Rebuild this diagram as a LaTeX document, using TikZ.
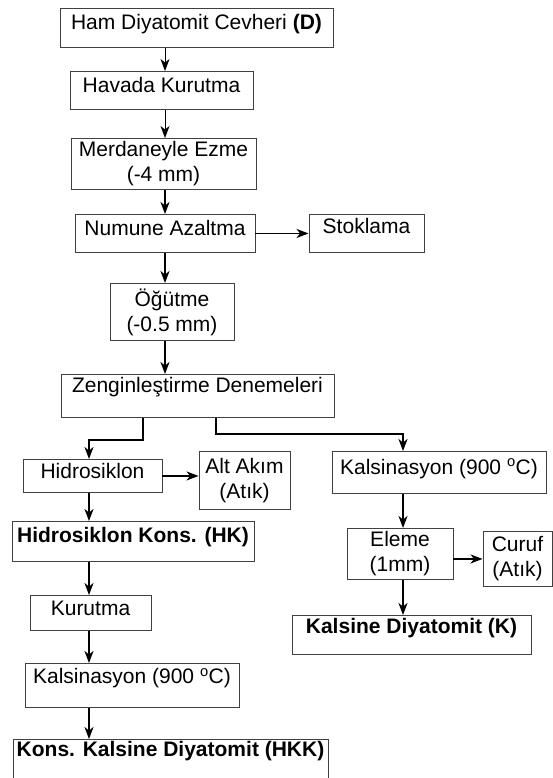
\documentclass[tikz,border=0pt]{standalone}
\usepackage{fontspec}
\setmainfont{Liberation Sans}
\usetikzlibrary{arrows.meta}

\begin{document}
\begin{tikzpicture}[x=1pt,y=-1pt,font=\fontsize{21}{25}\selectfont,
    box/.style={draw=black!75, line width=0.9pt, inner sep=0pt, anchor=north, align=center},
    flow/.style={->, line width=1.7pt},
    flowthin/.style={->, line width=0.9pt},
    >={Stealth[length=12pt,width=9pt,inset=3.5pt]}]
      \path[use as bounding box] (0,0) rectangle (553,778);
      \clip (0,0) rectangle (553,778);
      % main line
      \node [box, minimum width=273pt, text height=21.3pt, text depth=17.7pt] (raw) at (196.5,8) {Ham Diyatomit Cevheri \textbf{(D)}};
      \node [box, minimum width=183pt, text height=20.7pt, text depth=17.3pt] (hava) at (161.5,71) {Havada Kurutma};
      \node [box, minimum width=185pt, minimum height=51pt] (merd) at (163.5,138) {Merdaneyle Ezme\\(-4 mm)};
      \node [box, minimum width=180pt, text height=21pt, text depth=17pt] (num) at (165,214) {Numune Azaltma};
      \node [box, minimum width=115pt, text height=19.3pt, text depth=18.7pt] (stok) at (366.5,214) {Stoklama};
      \node [box, minimum width=124pt, minimum height=57pt] (ogut) at (172,283) {Öğütme\\(-0.5 mm)};
      \node [box, minimum width=273pt, text height=18.5pt, text depth=24.5pt] (zen) at (197.5,374) {Zenginleştirme Denemeleri};
      % hidrosiklon side
      \node [box, minimum width=139pt, text height=19.3pt, text depth=13.7pt] (hid) at (92.5,459) {Hidrosiklon};
      \node [box, minimum width=91pt, minimum height=58pt] (alt) at (244.5,451) {Alt Akım\\(Atık)};
      \node [box, minimum width=242pt, text height=20.7pt, text depth=19.3pt] (hk) at (133,521) {\textbf{Hidrosiklon Kons. (HK)}};
      \node [box, minimum width=121pt, text height=20pt, text depth=15pt] (kur) at (90.5,595) {Kurutma};
      \node [box, minimum width=214pt, text height=20.3pt, text depth=23.7pt] (kall) at (132,663) {Kalsinasyon (900 \textsuperscript{o}C)};
      \node [box, minimum width=315pt, text height=17pt, text depth=34pt] (hkk) at (170.5,739) {\textbf{Kons. Kalsine Diyatomit (HKK)}};
      % kalsinasyon side
      \node [box, minimum width=214pt, text height=23pt, text depth=19pt] (kalr) at (439,451) {Kalsinasyon (900 \textsuperscript{o}C)};
      \node [box, minimum width=106pt, minimum height=51pt] (elm) at (400,528) {Eleme\\(1mm)};
      \node [box, minimum width=69pt, minimum height=55pt] (cur) at (517.5,531) {Curuf\\(Atık)};
      \node [box, minimum width=239pt, text height=18.3pt, text depth=20.7pt] (kal) at (411.5,615) {\textbf{Kalsine Diyatomit (K)}};
      % connectors
      \coordinate (spine) at (165,0);
      \coordinate (lx) at (89,0);
      \coordinate (rx) at (403,0);
      \coordinate (lb) at (143,440);
      \coordinate (rb) at (216,434);
      \draw [flowthin] (raw.south -| spine) -- (hava.north -| spine);
      \draw [flowthin] (hava.south -| spine) -- (merd.north -| spine);
      \draw [flow] (merd.south -| spine) -- (num.north -| spine);
      \draw [flow] (num.east) -- (stok.west);
      \draw [flow] (num.south -| spine) -- (ogut.north -| spine);
      \draw [flow] (ogut.south -| spine) -- (zen.north -| spine);
      \draw [flow] (zen.south -| lb) -- (lb) -| (hid.north -| lx);
      \draw [flow] (zen.south -| rb) -- (rb) -| (kalr.north -| rx);
      \draw [flow] (hid.east) -- (alt.west |- hid.east);
      \draw [flow] (hid.south -| lx) -- (hk.north -| lx);
      \draw [flow] (hk.south -| lx) -- (kur.north -| lx);
      \draw [flow] (kur.south -| lx) -- (kall.north -| lx);
      \draw [flow] (kall.south -| lx) -- (hkk.north -| lx);
      \draw [flow] (kalr.south -| rx) -- (elm.north -| rx);
      \draw [flow] (elm.east |- cur.west) -- (cur.west);
      \draw [flow] (elm.south -| rx) -- (kal.north -| rx);
    \end{tikzpicture}
\end{document}
